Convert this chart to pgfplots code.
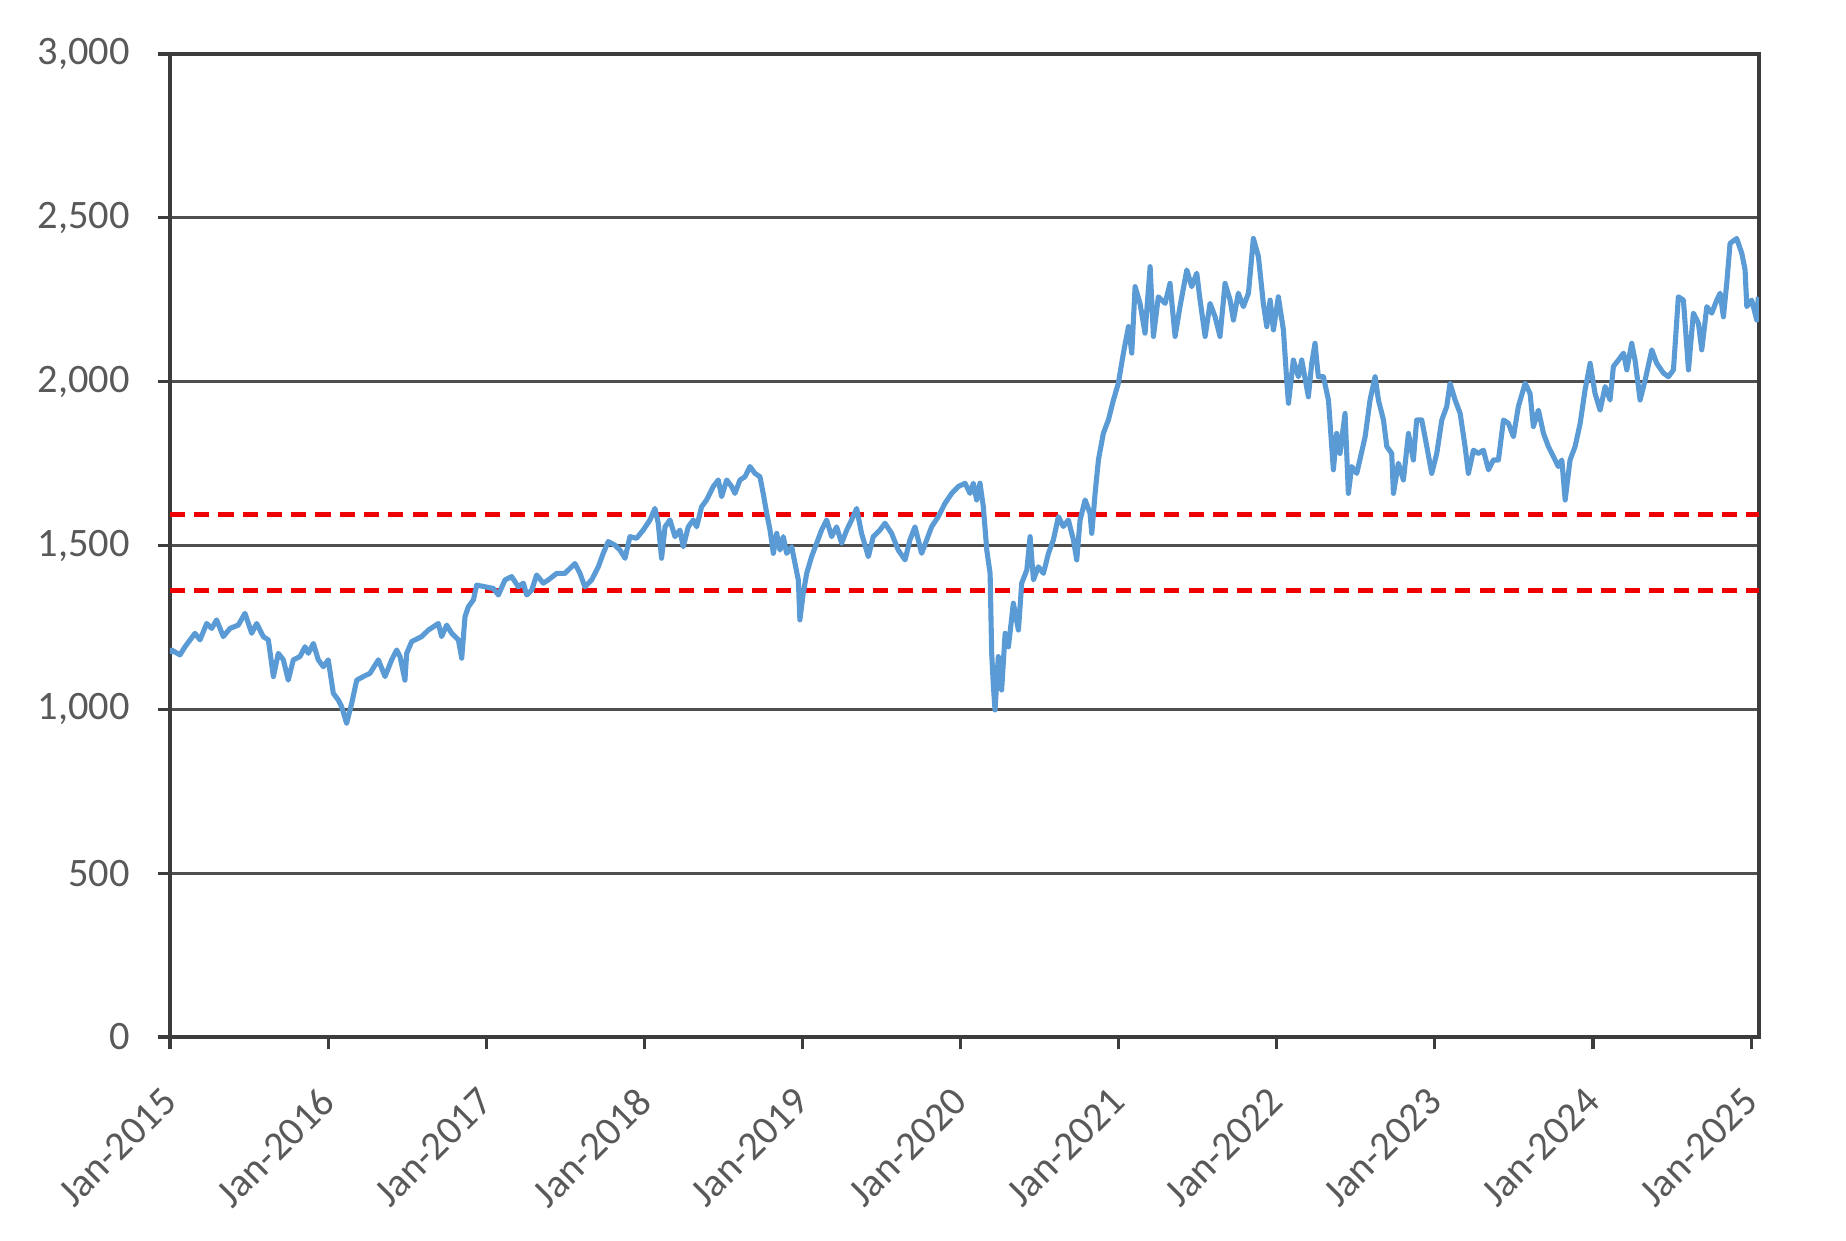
\documentclass[border=0pt]{standalone}
\usepackage{fontspec}
\setmainfont{Carlito}
\usepackage{pgfplots}
\pgfplotsset{compat=1.18}
\usepackage{pgfplotstable}
\definecolor{lineblue}{HTML}{5B9BD5}
\definecolor{gridgray}{HTML}{4F4F4F}
\definecolor{axisgray}{HTML}{3C3C3C}
\definecolor{labelgray}{HTML}{595959}
\definecolor{refred}{HTML}{EE0000}

\pgfplotstableread{
x y
2015.000 1170
2015.011 1181
2015.063 1166
2015.095 1191
2015.158 1232
2015.190 1212
2015.232 1262
2015.264 1247
2015.295 1273
2015.337 1222
2015.380 1247
2015.432 1257
2015.474 1293
2015.517 1232
2015.548 1262
2015.590 1222
2015.622 1212
2015.654 1100
2015.685 1171
2015.717 1151
2015.748 1089
2015.780 1151
2015.822 1161
2015.854 1191
2015.875 1171
2015.907 1201
2015.938 1151
2015.970 1130
2016.001 1151
2016.033 1049
2016.065 1028
2016.086 1008
2016.117 957
2016.149 1018
2016.181 1089
2016.223 1100
2016.265 1110
2016.318 1151
2016.360 1100
2016.402 1151
2016.434 1181
2016.455 1161
2016.486 1089
2016.497 1171
2016.529 1207
2016.592 1222
2016.634 1242
2016.666 1252
2016.697 1262
2016.718 1222
2016.750 1257
2016.782 1232
2016.824 1212
2016.845 1156
2016.866 1283
2016.887 1313
2016.919 1334
2016.940 1379
2016.992 1374
2017.045 1369
2017.077 1349
2017.119 1395
2017.161 1405
2017.203 1374
2017.235 1385
2017.256 1349
2017.288 1364
2017.319 1410
2017.361 1385
2017.393 1395
2017.446 1415
2017.498 1415
2017.561 1445
2017.593 1415
2017.624 1374
2017.667 1395
2017.709 1435
2017.740 1476
2017.772 1512
2017.814 1501
2017.846 1486
2017.878 1461
2017.909 1527
2017.951 1522
2017.993 1547
2018.036 1578
2018.067 1613
2018.088 1568
2018.109 1461
2018.131 1557
2018.162 1578
2018.194 1527
2018.225 1547
2018.246 1496
2018.278 1557
2018.310 1578
2018.331 1557
2018.362 1618
2018.394 1639
2018.436 1680
2018.468 1700
2018.489 1649
2018.521 1700
2018.552 1680
2018.573 1659
2018.605 1700
2018.637 1710
2018.668 1741
2018.700 1720
2018.731 1710
2018.752 1659
2018.774 1598
2018.795 1547
2018.816 1476
2018.837 1537
2018.858 1486
2018.879 1527
2018.900 1476
2018.932 1496
2018.953 1445
2018.974 1395
2018.984 1273
2019.005 1354
2019.027 1415
2019.058 1466
2019.090 1507
2019.121 1547
2019.153 1578
2019.185 1527
2019.216 1557
2019.248 1507
2019.280 1547
2019.311 1578
2019.343 1613
2019.374 1537
2019.417 1466
2019.448 1527
2019.490 1547
2019.522 1568
2019.564 1537
2019.606 1486
2019.649 1456
2019.680 1517
2019.712 1557
2019.754 1476
2019.786 1517
2019.817 1557
2019.859 1588
2019.902 1629
2019.944 1659
2019.986 1680
2020.029 1690
2020.060 1659
2020.081 1690
2020.102 1639
2020.123 1690
2020.144 1619
2020.166 1486
2020.187 1415
2020.197 1171
2020.208 1069
2020.218 998
2020.239 1161
2020.260 1059
2020.282 1232
2020.303 1191
2020.334 1324
2020.366 1242
2020.387 1385
2020.419 1425
2020.440 1527
2020.461 1395
2020.492 1435
2020.524 1415
2020.556 1476
2020.587 1517
2020.619 1588
2020.650 1558
2020.682 1578
2020.714 1517
2020.735 1456
2020.756 1578
2020.788 1639
2020.819 1598
2020.830 1537
2020.851 1659
2020.872 1761
2020.903 1842
2020.935 1883
2020.967 1944
2020.998 1995
2021.030 2087
2021.062 2168
2021.083 2087
2021.104 2290
2021.135 2239
2021.167 2148
2021.199 2351
2021.220 2138
2021.251 2259
2021.294 2239
2021.325 2300
2021.357 2138
2021.388 2229
2021.431 2341
2021.462 2290
2021.494 2331
2021.515 2249
2021.547 2138
2021.578 2239
2021.610 2198
2021.641 2138
2021.673 2300
2021.705 2249
2021.726 2188
2021.757 2270
2021.789 2229
2021.821 2270
2021.852 2437
2021.884 2382
2021.915 2239
2021.937 2168
2021.958 2249
2021.979 2158
2022.010 2259
2022.042 2158
2022.063 2005
2022.074 1934
2022.105 2066
2022.137 2015
2022.158 2066
2022.200 1954
2022.221 2056
2022.242 2117
2022.263 2015
2022.295 2015
2022.327 1944
2022.358 1731
2022.379 1842
2022.400 1781
2022.432 1903
2022.453 1659
2022.474 1741
2022.506 1720
2022.559 1832
2022.590 1944
2022.622 2015
2022.643 1944
2022.675 1883
2022.696 1802
2022.727 1781
2022.738 1659
2022.769 1751
2022.801 1700
2022.833 1842
2022.864 1761
2022.885 1883
2022.917 1883
2022.949 1802
2022.980 1720
2023.012 1781
2023.044 1883
2023.075 1924
2023.096 1995
2023.128 1944
2023.160 1903
2023.191 1802
2023.212 1720
2023.244 1791
2023.275 1781
2023.307 1791
2023.339 1731
2023.370 1761
2023.402 1761
2023.434 1883
2023.465 1873
2023.497 1832
2023.528 1924
2023.571 1995
2023.602 1964
2023.623 1863
2023.655 1913
2023.687 1842
2023.718 1802
2023.750 1771
2023.781 1741
2023.803 1761
2023.824 1639
2023.855 1761
2023.887 1802
2023.919 1873
2023.950 1975
2023.982 2056
2024.013 1964
2024.045 1913
2024.077 1985
2024.108 1944
2024.129 2046
2024.161 2066
2024.193 2087
2024.214 2036
2024.245 2117
2024.266 2066
2024.298 1944
2024.330 2005
2024.372 2097
2024.403 2056
2024.446 2026
2024.477 2015
2024.509 2036
2024.540 2259
2024.572 2249
2024.604 2036
2024.635 2209
2024.667 2178
2024.688 2097
2024.720 2229
2024.751 2209
2024.783 2249
2024.804 2270
2024.825 2198
2024.846 2300
2024.867 2422
2024.909 2437
2024.941 2392
2024.962 2341
2024.973 2229
2025.004 2249
2025.025 2209
2025.036 2188
2025.046 2259
}\series

\begin{document}
\begin{tikzpicture}
\path[use as bounding box] (-17.0mm,-20.4mm) rectangle (167.6mm,103.7mm);
\begin{axis}[
  scale only axis,
  width=158.9mm, height=98.3mm,
  xmin=2015, xmax=2025.05,
  ymin=0, ymax=3000,
  xtick={2015,2016,2017,2018,2019,2020,2021,2022,2023,2024,2025},
  xticklabels={Jan-2015,Jan-2016,Jan-2017,Jan-2018,Jan-2019,Jan-2020,Jan-2021,Jan-2022,Jan-2023,Jan-2024,Jan-2025},
  ytick={0,500,1000,1500,2000,2500,3000},
  /pgf/number format/.cd, 1000 sep={,}, assume math mode=true, /pgfplots/.cd,
  scaled y ticks=false,
  tick align=outside,
  xtick pos=bottom, ytick pos=left,
  major tick length=1.25mm,
  tick style={axisgray, line width=0.9pt},
  axis line style={axisgray, line width=1.05pt},
  ymajorgrids,
  grid style={gridgray, line width=0.9pt},
  tick label style={font=\fontsize{11.5}{13}\selectfont, text=labelgray},
  yticklabel style={anchor=east, inner sep=0pt, xshift=-2.7mm},
  xticklabel style={yshift=-4.5mm, rotate=45, anchor=east, inner sep=0pt},
  clip=true,
]
\addplot[refred, line width=1.4pt, dash pattern=on 4.3pt off 2.6pt] coordinates {(2015,1594) (2025.05,1594)};
\addplot[refred, line width=1.4pt, dash pattern=on 4.3pt off 2.6pt] coordinates {(2015,1362) (2025.05,1362)};
\addplot[lineblue, line width=1.45pt, line join=round] table[x=x, y=y] {\series};
\end{axis}
\end{tikzpicture}
\end{document}
